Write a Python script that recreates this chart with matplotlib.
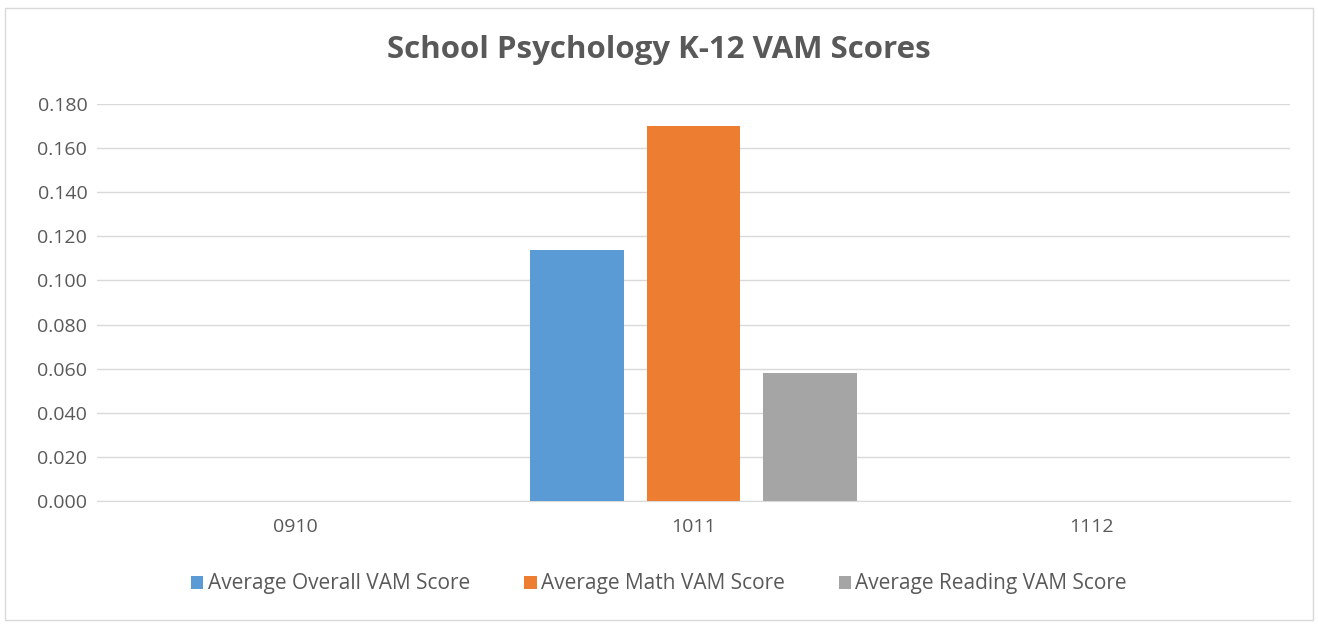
import numpy as np
import matplotlib.pyplot as plt
from matplotlib.patches import Rectangle

plt.rcParams['font.family'] = ['Open Sans', 'DejaVu Sans']

# данные
years = ['0910', '1011', '1112']
overall = [0.0, 0.114, 0.0]
math_vam = [0.0, 0.170, 0.0]
reading = [0.0, 0.058, 0.0]

series = [
    ('Average Overall VAM Score', overall, '#5B9BD5'),
    ('Average Math VAM Score', math_vam, '#ED7D31'),
    ('Average Reading VAM Score', reading, '#A5A5A5'),
]

fig = plt.figure(figsize=(13.18, 6.25), dpi=100)
ax = fig.add_axes([97/1318, 1 - 501/625, (1290-97)/1318, (501-104)/625])

x = np.arange(len(years))
width = 94/400
step = 117/400
for i, (name, vals, col) in enumerate(series):
    ax.bar(x + (i - 1) * step, vals, width, color=col, label=name, zorder=3)

ax.set_xlim(-0.5, 2.5)
ax.set_ylim(0, 0.18)
ax.set_yticks(np.arange(0, 0.181, 0.02))
ax.set_yticklabels([f'{v:.3f}' for v in np.arange(0, 0.181, 0.02)])
ax.set_xticks(x)
ax.set_xticklabels(years)
ax.grid(axis='y', color='#D9D9D9', linewidth=1, zorder=0)
for s in ['top', 'right', 'left']:
    ax.spines[s].set_visible(False)
ax.spines['bottom'].set_color('#D9D9D9')
ax.tick_params(axis='both', length=0, labelsize=14, colors='#595959')
ax.tick_params(axis='x', pad=12)
ax.tick_params(axis='y', pad=7)

fig.text(0.5, 1 - 50/625, 'School Psychology K-12 VAM Scores', ha='center', va='center',
         fontsize=22.5, fontweight='bold', color='#595959')

leg = fig.legend(loc='center', bbox_to_anchor=(0.5, 1 - 584/625), ncol=3, frameon=False,
                 fontsize=15, handlelength=0.6, handleheight=0.6, handletextpad=0.2,
                 columnspacing=2.6)
for t in leg.get_texts():
    t.set_color('#595959')

fig.patches.append(Rectangle((5/1318, 5/625), 1308/1318, 612/625, transform=fig.transFigure,
                             fill=False, edgecolor='#D9D9D9', linewidth=1))

fig.savefig('out.png', dpi=100)
